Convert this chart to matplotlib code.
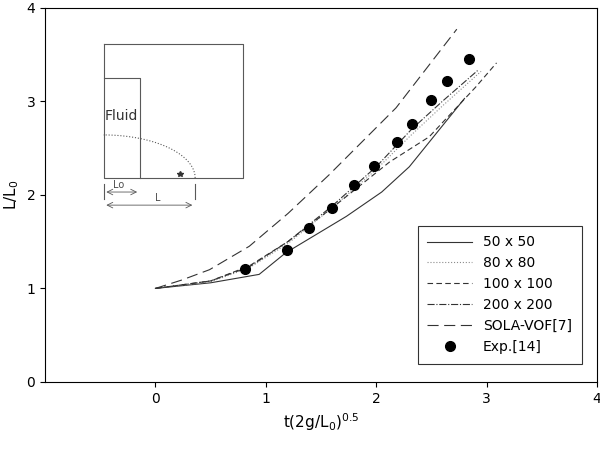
import matplotlib
matplotlib.use("Agg")
import matplotlib.pyplot as plt
import numpy as np

# series
t_50 = [0, 0.5, 0.94, 1.18, 1.73, 2.05, 2.3, 2.8]
L_50 = [1, 1.06, 1.15, 1.38, 1.77, 2.03, 2.3, 3.03]
t_80 = [0, 0.5, 0.85, 1.2, 1.6, 2.0, 2.3, 2.6, 2.95]
L_80 = [1, 1.07, 1.22, 1.48, 1.86, 2.27, 2.62, 2.95, 3.32]
t_100 = [0, 0.5, 0.85, 1.2, 1.6, 2.12, 2.48, 2.9, 3.09]
L_100 = [1, 1.08, 1.24, 1.5, 1.86, 2.35, 2.62, 3.15, 3.41]
t_200 = [0, 0.5, 0.85, 1.2, 1.6, 2.0, 2.32, 2.6, 2.93]
L_200 = [1, 1.08, 1.23, 1.5, 1.88, 2.3, 2.7, 3.0, 3.34]
t_sola = [0, 0.24, 0.49, 0.85, 1.2, 1.57, 2.18, 2.73]
L_sola = [1, 1.09, 1.2, 1.45, 1.8, 2.21, 2.93, 3.77]
t_exp = [0.81, 1.19, 1.39, 1.6, 1.8, 1.98, 2.19, 2.32, 2.5, 2.64, 2.84]
L_exp = [1.21, 1.41, 1.65, 1.86, 2.10, 2.31, 2.56, 2.76, 3.01, 3.22, 3.45]

fig = plt.figure(figsize=(6, 4.51), dpi=100)
ax = fig.add_axes([0.075, 0.153, 0.92, 0.83])

ax.plot(t_50, L_50, color="0.2", lw=0.8, ls="-", label="50 x 50")
ax.plot(t_80, L_80, color="0.55", lw=0.8, ls=":", label="80 x 80")
ax.plot(t_100, L_100, color="0.2", lw=0.8, ls=(0, (5, 3)), label="100 x 100")
ax.plot(t_200, L_200, color="0.2", lw=0.8, ls="-.", label="200 x 200")
ax.plot(t_sola, L_sola, color="0.2", lw=0.8, ls=(0, (10, 5)), label="SOLA-VOF[7]")
ax.plot(t_exp, L_exp, "o", color="black", ms=7, ls="none", label="Exp.[14]")

ax.set_xlim(-1, 4)
ax.set_ylim(0, 4)
ax.set_xticks([0, 1, 2, 3, 4])
ax.set_yticks([0, 1, 2, 3, 4])
ax.set_xlabel(r"t(2g/L$_0$)$^{0.5}$", fontsize=11)
ax.set_ylabel(r"L/L$_0$", fontsize=11)
ax.tick_params(labelsize=10)
leg = ax.legend(loc="lower right", bbox_to_anchor=(0.985, 0.03), fancybox=False,
                edgecolor="black", fontsize=10, handlelength=3.2, borderpad=0.7)
leg.get_frame().set_linewidth(0.8)

# inset sketch of the dam break setup
g = "0.35"
ax.plot([-0.47, 0.79, 0.79, -0.47, -0.47], [3.61, 3.61, 2.18, 2.18, 3.61], color=g, lw=0.8)
ax.plot([-0.47, -0.14, -0.14], [3.25, 3.25, 2.18], color=g, lw=0.8)
th = np.linspace(0, np.pi / 2, 40)
ax.plot(-0.47 + 0.83 * np.cos(th), 2.18 + 0.46 * np.sin(th), color=g, lw=0.8, ls=":")
ax.text(-0.46, 2.8, "Fluid", fontsize=10, color="0.2")
ax.plot(0.22, 2.22, marker="*", color="0.2", ms=4)
ax.plot([-0.47, -0.47], [1.96, 2.12], color=g, lw=0.8)
ax.plot([0.36, 0.36], [1.96, 2.12], color=g, lw=0.8)
ax.annotate("", xy=(-0.14, 2.03), xytext=(-0.47, 2.03),
            arrowprops=dict(arrowstyle="<->", color=g, lw=0.6))
ax.annotate("", xy=(0.36, 1.89), xytext=(-0.47, 1.89),
            arrowprops=dict(arrowstyle="<->", color=g, lw=0.6))
ax.text(-0.38, 2.07, "Lo", fontsize=7, color="0.3")
ax.text(0.0, 1.93, "L", fontsize=7, color="0.3")

fig.savefig("out.png", dpi=100)
